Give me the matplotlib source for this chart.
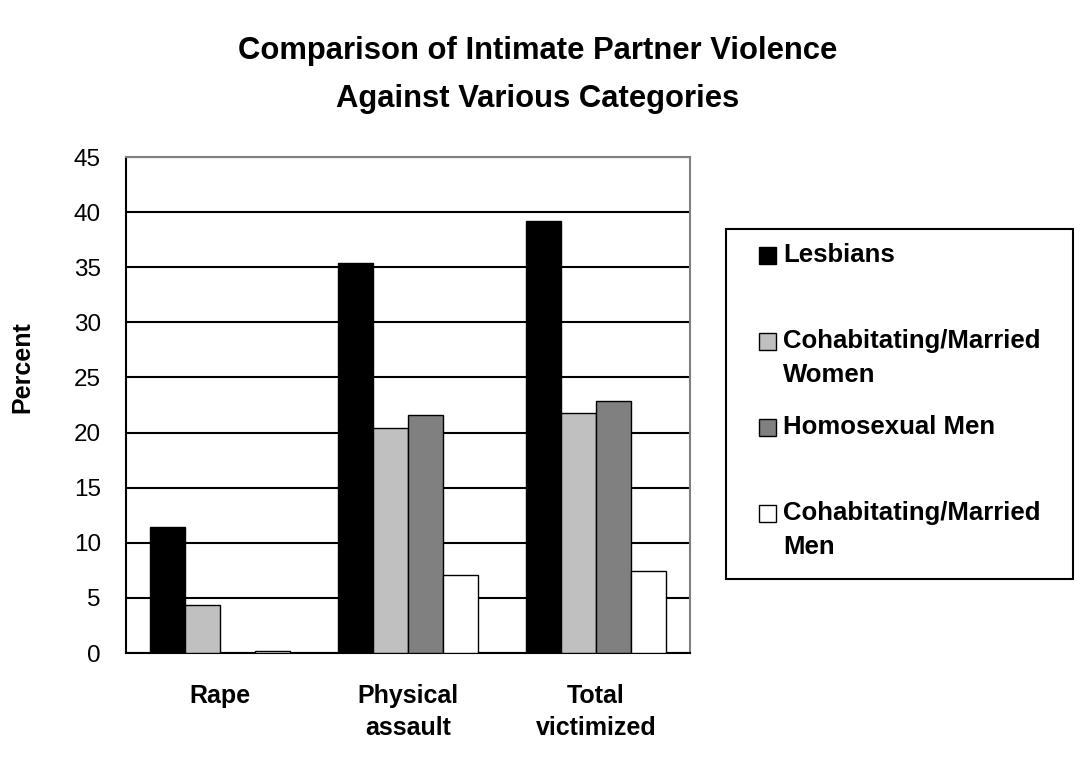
import numpy as np
import matplotlib.pyplot as plt
from matplotlib.patches import Rectangle

plt.rcParams['font.family'] = ['Liberation Sans', 'DejaVu Sans']

# ---------------- Data ----------------
categories = ["Rape", "Physical\nassault", "Total\nvictimized"]
series_names = ["Lesbians", "Cohabitating/Married\nWomen", "Homosexual Men",
                "Cohabitating/Married\nMen"]
lesbians = [11.4, 35.4, 39.2]
married_women = [4.4, 20.4, 21.8]
homosexual_men = [0.0, 21.6, 22.9]
married_men = [0.2, 7.1, 7.4]
yticks = list(range(0, 50, 5))

series = [lesbians, married_women, homosexual_men, married_men]
colors = ["#000000", "#C0C0C0", "#808080", "#FFFFFF"]

W, H = 1086, 765
fig = plt.figure(figsize=(W / 100, H / 100), dpi=100)
ax = fig.add_axes([126 / W, 1 - 653 / H, 564 / W, 496 / H])

x = np.arange(len(categories)) + 0.5
w = 0.186
for i, (vals, col) in enumerate(zip(series, colors)):
    ax.bar(x + (i - 1.5) * w, vals, w, color=col, edgecolor="black",
           linewidth=1.0, label=series_names[i], zorder=3)

ax.set_xlim(0, 3)
ax.set_ylim(0, 45)
ax.set_yticks(yticks)
ax.set_yticklabels([str(v) for v in yticks], fontsize=17.5)
ax.set_xticks(x)
ax.set_xticklabels(categories, fontsize=18, fontweight="bold", linespacing=1.45)
ax.tick_params(axis="both", length=0)
ax.tick_params(axis="x", pad=22)
ax.tick_params(axis="y", pad=18)
ax.yaxis.grid(True, color="black", linewidth=1.5, zorder=0)
ax.set_axisbelow(True)

for side in ["left", "bottom"]:
    ax.spines[side].set_color("black")
    ax.spines[side].set_linewidth(1.5)
for side in ["top", "right"]:
    ax.spines[side].set_color("#808080")
    ax.spines[side].set_linewidth(1.5)

fig.text(22 / W, 1 - 367 / H, "Percent", rotation=90, fontsize=18,
         fontweight="bold", ha="center", va="center")

fig.text(538 / W, 1 - 75 / H,
         "Comparison of Intimate Partner Violence\nAgainst Various Categories",
         fontsize=22.3, fontweight="bold", ha="center", va="center",
         linespacing=1.75)

# ----- legend box, Excel style (handle level with the first text line) -----
fig.patches.append(Rectangle((726 / W, 1 - 579 / H), 347 / W, 350 / H,
                             transform=fig.transFigure, facecolor="white",
                             edgecolor="black", linewidth=1.5))
for i, (name, col) in enumerate(zip(series_names, colors)):
    yc = 255 + 86 * i
    fig.patches.append(Rectangle((759 / W, 1 - (yc + 9) / H), 17 / W, 17 / H,
                                 transform=fig.transFigure, facecolor=col,
                                 edgecolor="black", linewidth=1.0))
    for j, line in enumerate(name.split("\n")):
        fig.text(783 / W, 1 - (yc + 34 * j) / H, line, fontsize=18.5,
                 fontweight="bold", ha="left", va="center")

fig.savefig("out.png", dpi=100)
